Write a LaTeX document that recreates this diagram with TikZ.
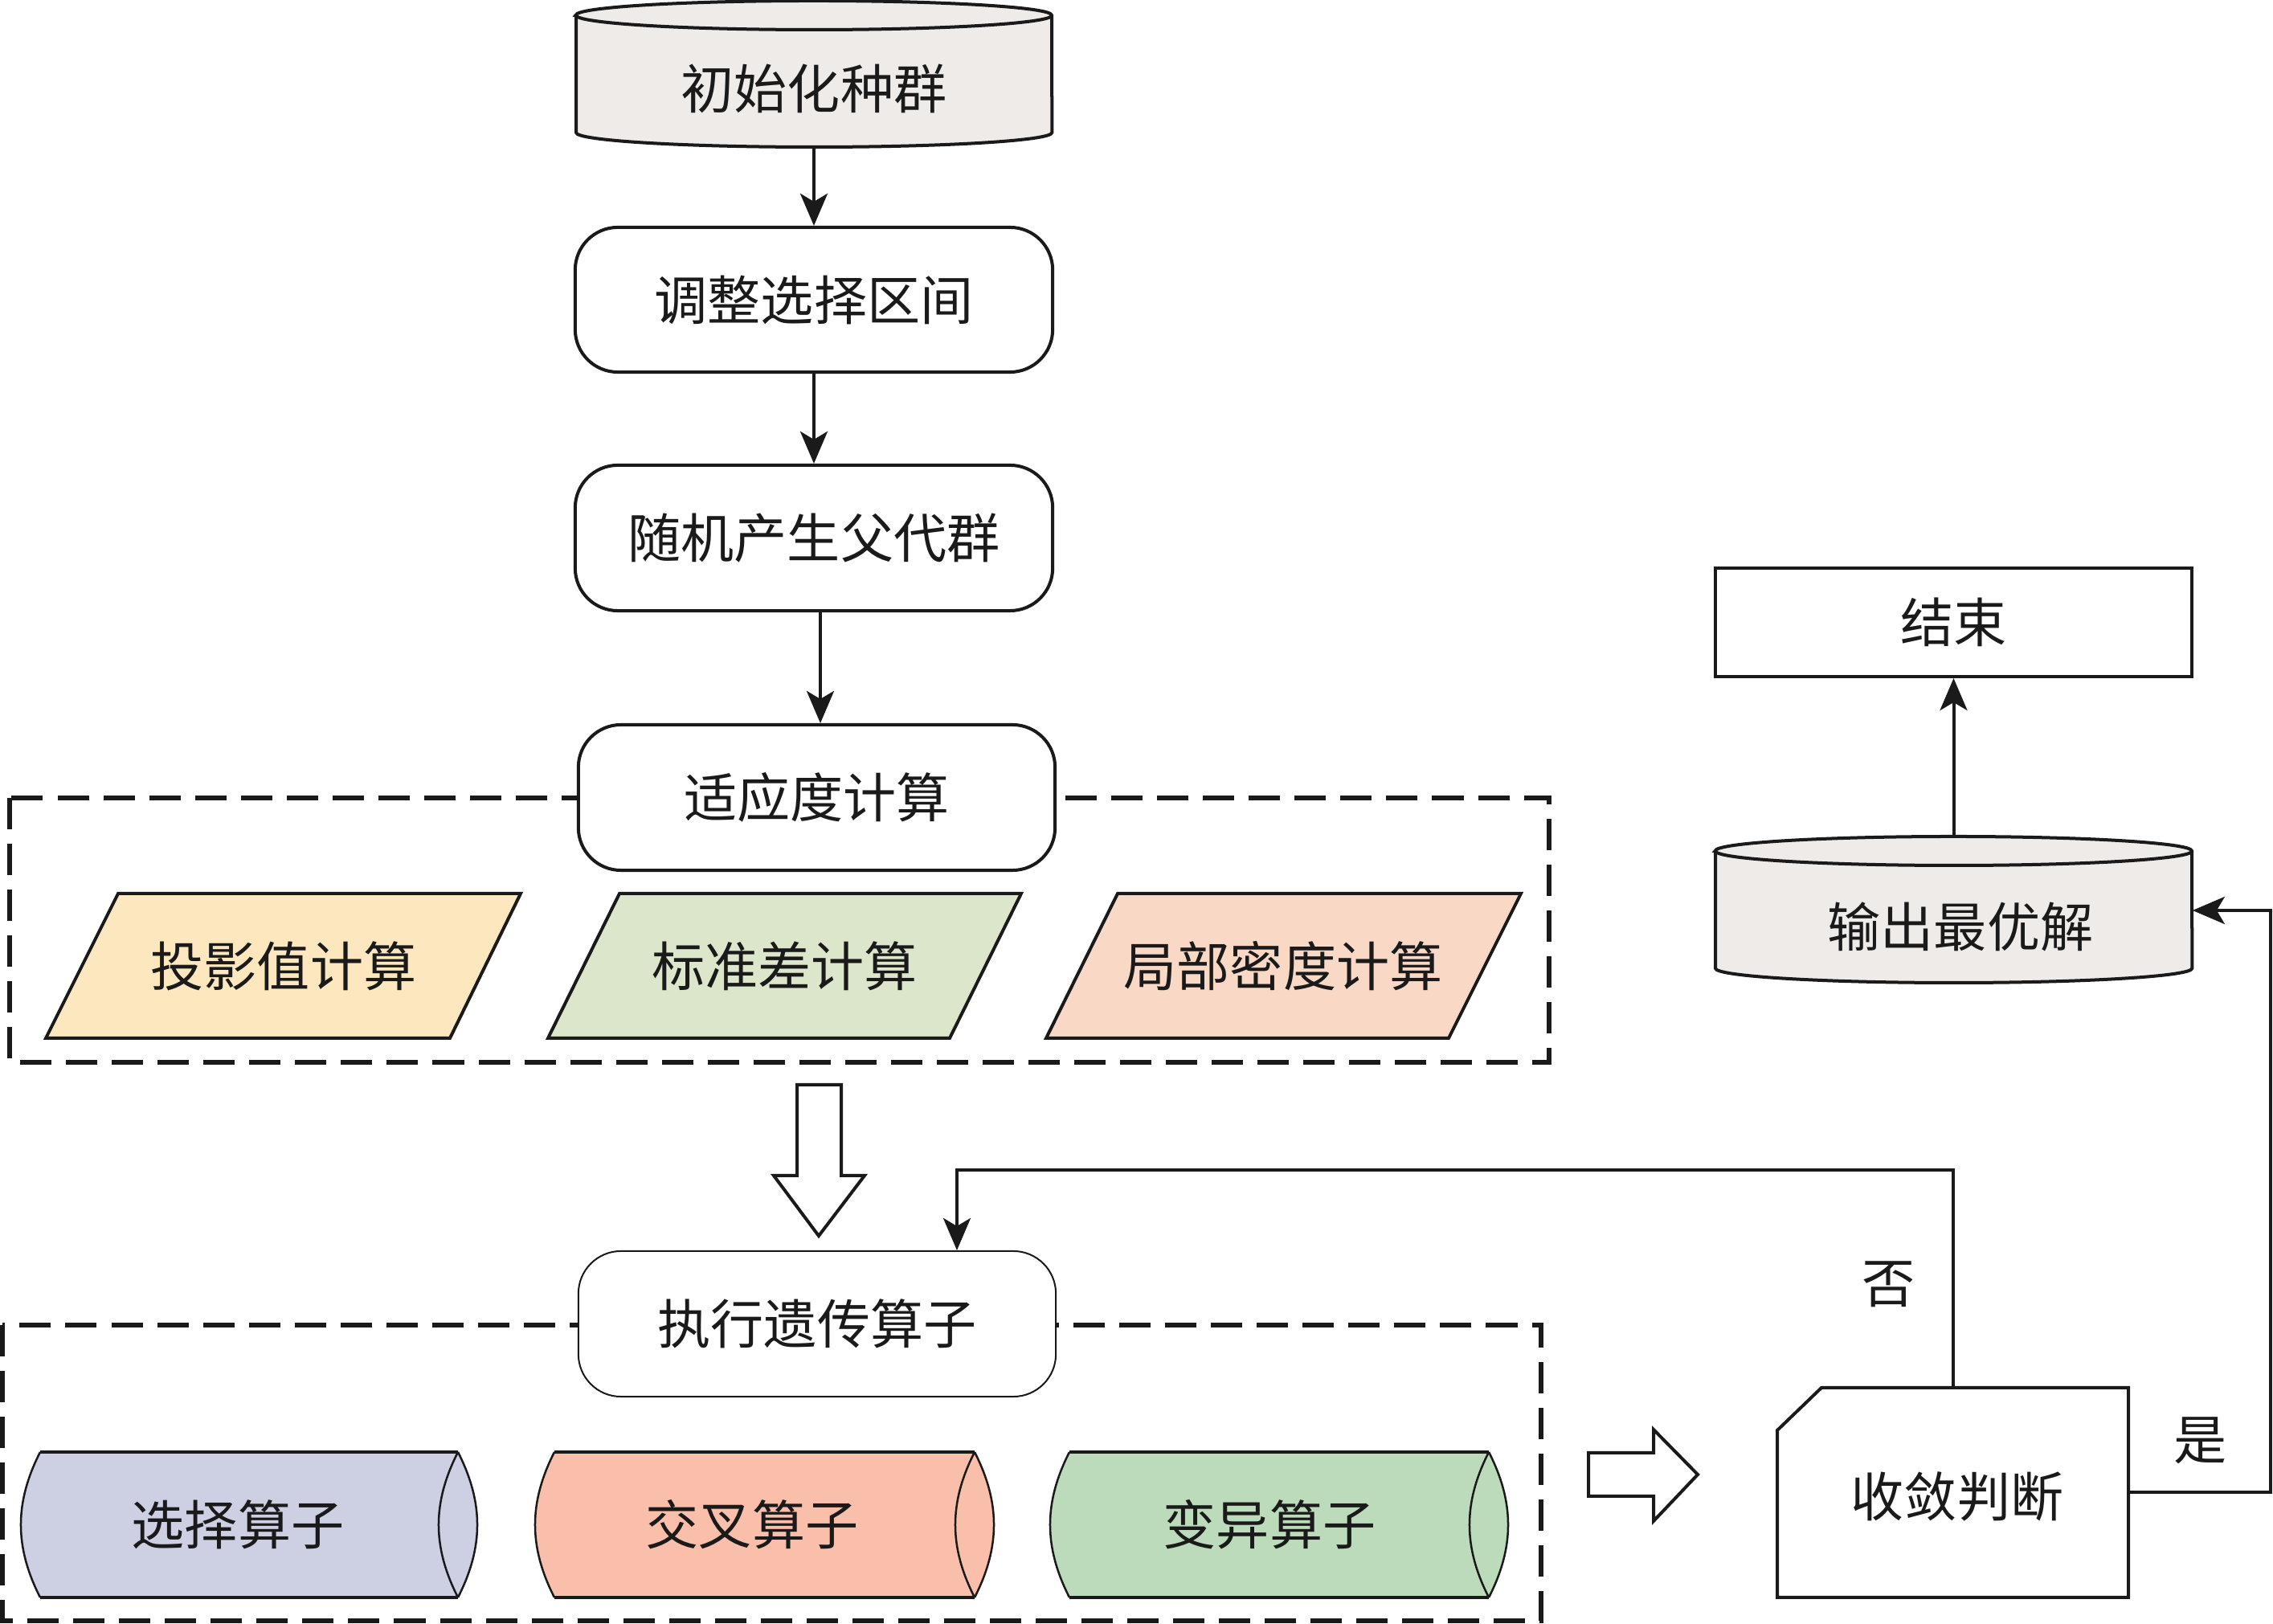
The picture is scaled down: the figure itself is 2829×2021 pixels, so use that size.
\documentclass[tikz,border=0pt]{standalone}
\usepackage{fontspec}
\newfontfamily\cjk{Noto Sans CJK SC}
\usetikzlibrary{arrows.meta,calc}
\definecolor{ink}{HTML}{1A1A1A}
\definecolor{dbfill}{HTML}{EFEBE9}
\definecolor{pyellow}{HTML}{FCE7BE}
\definecolor{pgreen}{HTML}{DCE6CA}
\definecolor{ppink}{HTML}{F9D9C6}
\definecolor{cblue}{HTML}{CDCFE3}
\definecolor{csalmon}{HTML}{F9BFAA}
\definecolor{cgreen}{HTML}{BBDBBB}
\begin{document}
\begin{tikzpicture}[x=0.01cm,y=0.01cm,
  txt/.style={font=\cjk\fontsize{18.8}{22}\selectfont, text=ink, inner sep=0pt},
  rbox/.style={txt, draw=ink, line width=0.04cm, rounded corners=0.53cm, fill=white,
               minimum width=5.94cm, minimum height=1.80cm},
  anchorbox/.style={draw=none, inner sep=0pt},
  outline/.style={draw=ink, line width=0.04cm},
  thinline/.style={draw=ink, line width=0.025cm},
  dashbox/.style={draw=ink, line width=0.055cm, dash pattern=on 0.39cm off 0.18cm},
  arr/.style={draw=ink, line width=0.04cm, -{Stealth[length=0.4cm, width=0.34cm, inset=0.1cm]}},
  hollow/.style={draw=ink, line width=0.04cm, fill=white, line join=miter}
]
\useasboundingbox (0,0) rectangle (2829,2021);

% ---------- dashed group frames ----------
\draw[dashbox] (12,1028) rectangle (1928,699);
\draw[dashbox] (3,372) rectangle (1918,4);

% ---------- initial population (database cylinder) ----------
\path[fill=dbfill] (717,2002) -- (717,1856) arc[start angle=180,end angle=360,x radius=2.96cm,y radius=0.18cm]
   -- (1309,2002) arc[start angle=0,end angle=180,x radius=2.96cm,y radius=0.18cm] -- cycle;
\draw[outline] (717,2002) -- (717,1856) arc[start angle=180,end angle=360,x radius=2.96cm,y radius=0.18cm]
   -- (1309,2002) arc[start angle=0,end angle=180,x radius=2.96cm,y radius=0.18cm] -- cycle;
\draw[outline] (717,2002) arc[start angle=180,end angle=360,x radius=2.96cm,y radius=0.18cm];
\node[anchorbox, minimum width=5.92cm, minimum height=1.82cm] (init) at (1013,1929) {};
\node[txt] (initT) at (1013,1911) {初始化种群};

% ---------- process boxes ----------
\node[rbox] (adj) at (1013,1648) {调整选择区间};
\node[rbox, minimum height=1.81cm] (rand) at (1013,1351.5) {随机产生父代群};
\node[rbox, minimum width=5.93cm, minimum height=1.81cm] (fit) at (1016.5,1028.5) {适应度计算};

% ---------- fitness parallelograms ----------
\draw[outline, fill=pyellow] (147,909) -- (648,909) -- (560,729) -- (57,729) -- cycle;
\node[txt] (proj) at (353,819) {投影值计算};
\draw[outline, fill=pgreen] (771,909) -- (1271,909) -- (1182,729) -- (682,729) -- cycle;
\node[txt] (std) at (976.5,819) {标准差计算};
\draw[outline, fill=ppink] (1391,909) -- (1893,909) -- (1803,729) -- (1302,729) -- cycle;
\node[txt] (dens) at (1597,819) {局部密度计算};

% ---------- hollow down arrow ----------
\draw[hollow] (992,671) -- (1047,671) -- (1047,558) -- (1076,558) -- (1019,483) -- (963,558) -- (992,558) -- cycle;

% ---------- execute GA operators ----------
\node[rbox, draw=ink, line width=0.02cm, minimum height=1.81cm] (exec) at (1017,373.5) {执行遗传算子};

% ---------- operator cylinders ----------
\foreach \xl/\xr/\col/\name/\lab/\tx in {50/570/cblue/sel/选择算子/296, 690/1213/csalmon/cross/交叉算子/936, 1331/1853/cgreen/mut/变异算子/1580}{
  \path[fill=\col] (\xl,214) -- (\xr,214) to[bend left=27] (\xr,33)
     -- (\xl,33) to[bend left=27] (\xl,214) -- cycle;
  \draw[outline] (\xl,214) -- (\xr,214);
  \draw[outline] (\xl,33) -- (\xr,33);
  \draw[thinline] (\xr,214) to[bend left=27] (\xr,33);
  \draw[thinline] (\xr,214) to[bend right=27] (\xr,33);
  \draw[thinline] (\xl,214) to[bend right=27] (\xl,33);
  \node[txt] (\name) at (\tx,123.5) {\lab};
}

% ---------- hollow right arrow ----------
\draw[hollow] (1977,213) -- (2058,213) -- (2058,242) -- (2113,186) -- (2058,128) -- (2058,159) -- (1977,159) -- cycle;

% ---------- convergence judgement ----------
\draw[outline, line join=miter] (2267,294) -- (2649,294) -- (2649,33) -- (2212,33) -- (2212,241) -- cycle;
\node[anchorbox, minimum width=4.37cm, minimum height=2.61cm] (conv) at (2430.5,163.5) {};
\node[txt] (convT) at (2436,159) {收敛判断};

% ---------- output best solution (database cylinder) ----------
\path[fill=dbfill] (2135,962) -- (2135,816) arc[start angle=180,end angle=360,x radius=2.965cm,y radius=0.18cm]
   -- (2728,962) arc[start angle=0,end angle=180,x radius=2.965cm,y radius=0.18cm] -- cycle;
\draw[outline] (2135,962) -- (2135,816) arc[start angle=180,end angle=360,x radius=2.965cm,y radius=0.18cm]
   -- (2728,962) arc[start angle=0,end angle=180,x radius=2.965cm,y radius=0.18cm] -- cycle;
\draw[outline] (2135,962) arc[start angle=180,end angle=360,x radius=2.965cm,y radius=0.18cm];
\node[anchorbox, minimum width=5.93cm, minimum height=1.84cm] (out) at (2431.5,888) {};
\node[txt] (outT) at (2440,868) {输出最优解};

% ---------- end ----------
\node[txt, draw=ink, line width=0.04cm, minimum width=5.93cm, minimum height=1.35cm] (endn) at (2431.5,1246.5) {结束};

% ---------- connectors ----------
\draw[arr] (init.south) -- (adj.north);
\draw[arr] (adj.south) -- (rand.north);
\draw[arr] ([xshift=0.08cm]rand.south) -- ([xshift=0.08cm]rand.south |- fit.north);
\draw[arr] (out.north) -- (endn.south);
\draw[arr] (conv.east) -- ++(176,0) |- (out.east);
\coordinate (fb) at (1191,565);
\draw[arr] (conv.north) |- (fb) -- (fb |- exec.north);

% ---------- branch labels ----------
\node[txt] (yes) at (2739,228) {是};
\node[txt] (no) at (2351,423) {否};
\end{tikzpicture}
\end{document}
